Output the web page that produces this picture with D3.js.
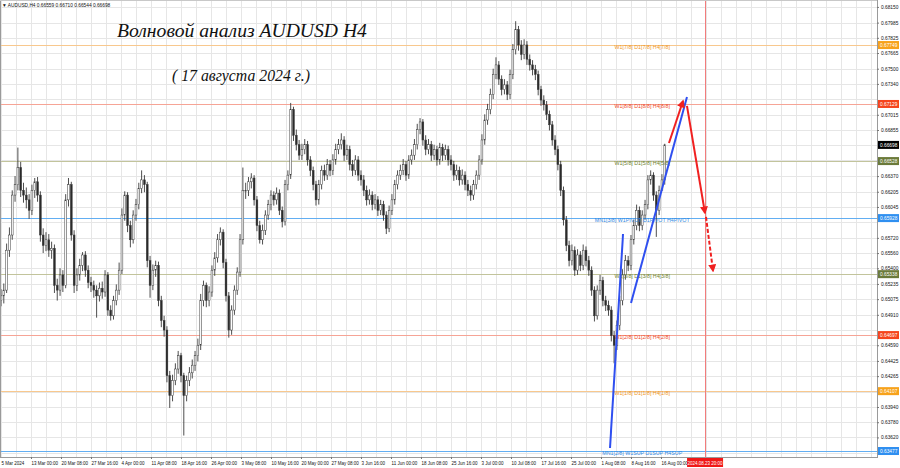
<!DOCTYPE html>
<html><head><meta charset="utf-8">
<script src="https://cdn.jsdelivr.net/npm/d3@7"></script>
<style>body{margin:0;background:#fff}svg{display:block}</style>
</head><body>
<script>
// ---------- DATA ----------
const symbolHeader = "AUDUSD,H4  0.66559 0.66710 0.66544 0.66698";
const firstOpen = 0.6498;
// H12 candles (2 per trading day), 5 Mar 2024 .. 16 Aug 2024; open = previous close
const closes = [
0.6506,0.6511,0.6517,0.6559,0.6575,0.6617,0.6628,0.6646,0.6622,0.6617,
0.6612,0.6601,0.6622,0.6631,0.6617,0.6575,0.6564,0.6570,0.6559,0.6561,
0.6522,0.6517,0.6533,0.6522,0.6612,0.6628,0.6575,0.6522,0.6533,0.6543,
0.6554,0.6538,0.6525,0.6522,0.6517,0.6511,0.6519,0.6515,0.6533,0.6496,
0.6490,0.6506,0.6517,0.6538,0.6596,0.6617,0.6585,0.6570,0.6596,0.6607,
0.6624,0.6633,0.6628,0.6548,0.6522,0.6538,0.6543,0.6506,0.6485,0.6475,
0.6427,0.6406,0.6422,0.6434,0.6448,0.6427,0.6406,0.6422,0.6430,0.6438,
0.6448,0.6459,0.6506,0.6522,0.6506,0.6515,0.6538,0.6551,0.6570,0.6578,
0.6546,0.6511,0.6475,0.6496,0.6517,0.6536,0.6570,0.6622,0.6622,0.6631,
0.6635,0.6612,0.6585,0.6570,0.6580,0.6596,0.6607,0.6617,0.6612,0.6619,
0.6601,0.6589,0.6628,0.6638,0.6707,0.6680,0.6670,0.6659,0.6665,0.6670,
0.6654,0.6643,0.6628,0.6612,0.6628,0.6643,0.6638,0.6649,0.6643,0.6654,
0.6665,0.6670,0.6675,0.6659,0.6665,0.6649,0.6643,0.6654,0.6638,0.6633,
0.6622,0.6612,0.6617,0.6607,0.6612,0.6601,0.6607,0.6596,0.6582,0.6601,
0.6612,0.6628,0.6638,0.6643,0.6649,0.6638,0.6654,0.6659,0.6670,0.6686,
0.6694,0.6675,0.6665,0.6670,0.6659,0.6665,0.6654,0.6667,0.6659,0.6665,
0.6654,0.6649,0.6638,0.6643,0.6633,0.6638,0.6628,0.6622,0.6617,0.6628,
0.6638,0.6654,0.6675,0.6696,0.6707,0.6723,0.6744,0.6754,0.6739,0.6728,
0.6733,0.6723,0.6744,0.6770,0.6791,0.6775,0.6765,0.6775,0.6760,0.6754,
0.6749,0.6744,0.6728,0.6717,0.6712,0.6702,0.6691,0.6675,0.6665,0.6649,
0.6622,0.6591,0.6564,0.6548,0.6559,0.6538,0.6554,0.6543,0.6559,0.6548,
0.6538,0.6517,0.6490,0.6517,0.6527,0.6506,0.6501,0.6496,0.6469,0.6459,
0.6480,0.6506,0.6533,0.6548,0.6543,0.6570,0.6585,0.6601,0.6585,0.6596,
0.6607,0.6633,0.6638,0.6617,0.6601,0.6622,0.6633,0.66698];
const highs = [
.6512,.6518,.6524,.6566,.6583,.6622,.6637,.6667,.6652,.6630,
.6625,.6618,.6628,.6635,.6636,.6621,.6582,.6578,.6576,.6568,
.6565,.6529,.6540,.6538,.6618,.6635,.6631,.6580,.6540,.6550,
.6557,.6558,.6543,.6531,.6527,.6522,.6525,.6526,.6538,.6536,
.6501,.6511,.6523,.6546,.6603,.6621,.6620,.6590,.6601,.6613,
.6630,.6643,.6638,.6631,.6553,.6544,.6548,.6547,.6511,.6490,
.6479,.6432,.6428,.6440,.6453,.6451,.6430,.6427,.6436,.6444,
.6453,.6466,.6513,.6527,.6525,.6521,.6543,.6557,.6576,.6583,
.6581,.6550,.6515,.6501,.6522,.6541,.6576,.6646,.6630,.6636,
.6640,.6638,.6616,.6590,.6586,.6601,.6612,.6622,.6621,.6625,
.6623,.6605,.6633,.6643,.6714,.6710,.6686,.6675,.6671,.6676,
.6674,.6658,.6647,.6632,.6633,.6648,.6649,.6655,.6654,.6660,
.6671,.6676,.6682,.6679,.6670,.6669,.6654,.6659,.6658,.6643,
.6638,.6627,.6623,.6621,.6618,.6616,.6612,.6611,.6600,.6606,
.6618,.6633,.6643,.6649,.6655,.6653,.6659,.6665,.6676,.6692,
.6698,.6697,.6680,.6676,.6674,.6670,.6669,.6672,.6671,.6670,
.6669,.6659,.6653,.6649,.6647,.6644,.6642,.6633,.6627,.6633,
.6643,.6659,.6681,.6702,.6713,.6729,.6750,.6762,.6758,.6743,
.6739,.6737,.6749,.6776,.6800,.6795,.6780,.6781,.6779,.6765,
.6759,.6754,.6748,.6732,.6722,.6716,.6706,.6695,.6680,.6669,
.6653,.6626,.6595,.6569,.6565,.6563,.6560,.6558,.6565,.6563,
.6553,.6542,.6521,.6522,.6533,.6531,.6511,.6506,.6500,.6474,
.6485,.6511,.6539,.6554,.6553,.6575,.6591,.6607,.6605,.6601,
.6612,.6638,.6643,.6641,.6621,.6627,.6639,.66710];
const lows = [
.6493,.6500,.6503,.6514,.6552,.6570,.6610,.6622,.6615,.6609,
.6603,.6592,.6596,.6614,.6610,.6568,.6556,.6558,.6552,.6550,
.6514,.6506,.6511,.6515,.6519,.6605,.6569,.6514,.6516,.6527,
.6537,.6531,.6519,.6515,.6509,.6488,.6505,.6508,.6510,.6490,
.6485,.6486,.6501,.6512,.6534,.6590,.6578,.6562,.6566,.6590,
.6602,.6619,.6620,.6541,.6509,.6517,.6531,.6500,.6478,.6468,
.6420,.6393,.6400,.6417,.6429,.6420,.6364,.6400,.6416,.6424,
.6432,.6442,.6454,.6500,.6499,.6500,.6510,.6532,.6546,.6564,
.6540,.6505,.6467,.6470,.6491,.6512,.6531,.6565,.6613,.6616,
.6624,.6606,.6579,.6566,.6565,.6575,.6591,.6601,.6606,.6607,
.6596,.6583,.6585,.6622,.6634,.6674,.6664,.6654,.6654,.6660,
.6648,.6637,.6622,.6606,.6607,.6623,.6632,.6633,.6637,.6638,
.6649,.6660,.6665,.6653,.6654,.6643,.6637,.6638,.6632,.6627,
.6616,.6606,.6607,.6601,.6602,.6595,.6596,.6590,.6576,.6578,
.6596,.6607,.6623,.6633,.6638,.6632,.6634,.6649,.6654,.6665,
.6681,.6669,.6659,.6660,.6653,.6654,.6648,.6649,.6653,.6654,
.6648,.6643,.6632,.6633,.6627,.6628,.6622,.6616,.6611,.6612,
.6623,.6633,.6649,.6670,.6691,.6702,.6718,.6739,.6733,.6722,
.6723,.6717,.6718,.6739,.6765,.6769,.6759,.6760,.6754,.6748,
.6743,.6738,.6722,.6711,.6706,.6696,.6685,.6669,.6659,.6643,
.6616,.6585,.6558,.6542,.6543,.6532,.6533,.6537,.6538,.6542,
.6532,.6511,.6484,.6486,.6512,.6500,.6495,.6490,.6463,.6440,
.6454,.6475,.6501,.6528,.6537,.6538,.6565,.6580,.6579,.6580,
.6591,.6602,.6628,.6611,.6573,.6596,.6627,.6628];

// time axis labels (H4 bar index from 5 Mar 2024 00:00)
const timeLabels = ["5 Mar 2024","13 Mar 00:00","20 Mar 08:00","27 Mar 16:00","4 Apr 00:00","11 Apr 08:00",
"18 Apr 16:00","26 Apr 00:00","3 May 08:00","10 May 16:00","20 May 00:00","27 May 08:00","3 Jun 16:00",
"11 Jun 00:00","18 Jun 08:00","25 Jun 16:00","3 Jul 00:00","10 Jul 08:00","17 Jul 16:00","25 Jul 00:00",
"1 Aug 08:00","8 Aug 16:00","16 Aug 00:00"];
const timeBars = [0,36,68,100,132,164,196,228,260,292,324,356,388,420,452,484,516,548,580,612,644,676,708];
const futureLabel = "2024.08.23 20:00";
const futureBar = 755;

const priceTicks = [0.68150,0.67985,0.67825,0.67665,0.67500,0.67340,0.67180,0.67015,0.66855,0.66695,
0.66535,0.66370,0.66205,0.66045,0.65885,0.65720,0.65560,0.65400,0.65235,0.65075,0.64910,0.64750,
0.64590,0.64425,0.64265,0.64100,0.63940,0.63780,0.63620,0.63455];

const levelValues = [0.67749,0.67129,0.66528,0.65928,0.65338,0.64697,0.64107,0.63477];
const levelNames = ["W1[7/8] D1[7/8] H4[7/8]","W1[8/8] D1[8/8] H4[8/8]","W1[5/8] D1[5/8] H4[5/8]",
"MN1[3/8] W1PIVOT D1PIVOT H4PIVOT","W1[3/8] D1[3/8] H4[3/8]","W1[2/8] D1[2/8] H4[2/8]",
"W1[1/8] D1[1/8] H4[1/8]","MN1[2/8] W1SUP D1SUP H4SUP"];
const levelKinds = ["orange","red","olive","blue","olive","red","orange","blue"];
const lastPrice = 0.66698;

// wave annotation (H4 bar, price)
const blueLines = [[[653.6,0.63509],[667.5,0.65761]],[[676,0.65035],[735.7,0.67202]]];
const redArrows = [[[716.5,0.66718],[731.5,0.67160]],[[735.7,0.67108],[754.9,0.65982]]];
const redDashed = [[756,0.6594],[763.5,0.65372]];

const titleText = "Волновой анализ AUDUSD H4";
const subtitleText = "( 17 августа 2024 г.)";

// ---------- STYLES ----------
const kindStyle = {
  orange:{line:"#f8c88e", text:"#f0961e", box:"#f7a21b"},
  red:{line:"#f6a496", text:"#ee4a28", box:"#f5441c"},
  olive:{line:"#c2c49c", text:"#6f7f30", box:"#6b7a3a"},
  blue:{line:"#62aef2", text:"#2f88e4", box:"#2f8ff0"}
};
const W=900,H=468,PR=877,PB=457;
const AX_FONT="'Liberation Sans',Arial,sans-serif";

const svg=d3.select("body").append("svg").attr("width",W).attr("height",H);
svg.append("rect").attr("width",W).attr("height",H).attr("fill","#fff");

const x=d3.scaleLinear().domain([0,939]).range([-2.75,877.56]);
const y=d3.scaleLinear().domain([0.63414,0.68223]).range([PB,0]);

svg.append("defs").append("clipPath").attr("id","clip").append("rect")
  .attr("x",0).attr("y",0).attr("width",PR).attr("height",PB);
const plot=svg.append("g").attr("clip-path","url(#clip)");

// grid (every 16 H4 bars, and at every price tick)
const gridBars=d3.range(4,940,16);
plot.append("g").selectAll("line").data(gridBars).join("line")
  .attr("x1",d=>Math.round(x(d))+0.5).attr("x2",d=>Math.round(x(d))+0.5).attr("y1",0).attr("y2",PB)
  .attr("stroke","#e6e6e6").attr("stroke-width",1);
plot.append("g").selectAll("line").data(priceTicks).join("line")
  .attr("x1",0).attr("x2",PR).attr("y1",d=>Math.round(y(d))+0.5).attr("y2",d=>Math.round(y(d))+0.5)
  .attr("stroke","#e6e6e6").attr("stroke-width",1);

// level lines
plot.append("g").selectAll("line").data(levelValues).join("line")
  .attr("x1",0).attr("x2",PR).attr("y1",d=>Math.round(y(d))+0.5).attr("y2",d=>Math.round(y(d))+0.5)
  .attr("stroke",(d,i)=>kindStyle[levelKinds[i]].line).attr("stroke-width",1);

// future vertical line
plot.append("line").attr("x1",Math.round(x(futureBar))+0.5).attr("x2",Math.round(x(futureBar))+0.5)
  .attr("y1",0).attr("y2",PB).attr("stroke","#f27c7c").attr("stroke-width",1);

// candles
const candles=closes.map((c,i)=>({bar:3*i+1,o:i?closes[i-1]:firstOpen,c:c,h:highs[i],l:lows[i]}));
const cg=plot.append("g");
cg.selectAll("line").data(candles).join("line")
  .attr("x1",d=>x(d.bar)).attr("x2",d=>x(d.bar))
  .attr("y1",d=>y(Math.max(d.h,d.o,d.c))).attr("y2",d=>y(Math.min(d.l,d.o,d.c)))
  .attr("stroke","#3a3a3a").attr("stroke-width",0.9);
cg.selectAll("rect").data(candles).join("rect")
  .attr("x",d=>x(d.bar)-0.9).attr("width",1.8)
  .attr("y",d=>y(Math.max(d.o,d.c))).attr("height",d=>Math.max(0.8,Math.abs(y(d.o)-y(d.c))))
  .attr("fill",d=>d.c>=d.o?"#ffffff":"#2a2a2a").attr("stroke","#3a3a3a").attr("stroke-width",0.5);

// level labels
plot.append("g").selectAll("text").data(levelValues).join("text")
  .attr("x",x(688)).attr("y",d=>y(d)+4).attr("text-anchor","middle")
  .attr("font-family",AX_FONT).attr("font-size",5.3)
  .attr("fill",(d,i)=>kindStyle[levelKinds[i]].text).text((d,i)=>levelNames[i]);

// annotations
const line=d3.line().x(d=>x(d[0])).y(d=>y(d[1]));
plot.append("g").selectAll("path").data(blueLines).join("path")
  .attr("d",line).attr("stroke","#2f4ff0").attr("stroke-width",2).attr("fill","none");
const defs=svg.select("defs");
defs.append("marker").attr("id","arr").attr("viewBox","0 0 10 10").attr("refX",8).attr("refY",5)
  .attr("markerWidth",4).attr("markerHeight",4).attr("orient","auto")
  .append("path").attr("d","M0,0 L10,5 L0,10 z").attr("fill","#f02020");
plot.append("g").selectAll("path").data(redArrows).join("path")
  .attr("d",line).attr("stroke","#f02020").attr("stroke-width",2).attr("fill","none")
  .attr("marker-end","url(#arr)");
plot.append("path").attr("d",line(redDashed)).attr("stroke","#f02020").attr("stroke-width",2)
  .attr("stroke-dasharray","4,2").attr("fill","none").attr("marker-end","url(#arr)");

// frame
svg.append("line").attr("x1",PR+0.5).attr("x2",PR+0.5).attr("y1",0).attr("y2",PB+1).attr("stroke","#9a9a9a");
svg.append("line").attr("x1",0).attr("x2",PR+1).attr("y1",PB+0.5).attr("y2",PB+0.5).attr("stroke","#9a9a9a");
svg.append("line").attr("x1",0.5).attr("x2",0.5).attr("y1",0).attr("y2",PB).attr("stroke","#9a9a9a");
svg.append("line").attr("x1",0).attr("x2",PR).attr("y1",0.5).attr("y2",0.5).attr("stroke","#c8c8c8");

// price boxes
const boxes=levelValues.map((v,i)=>({v:v,fill:kindStyle[levelKinds[i]].box}));
boxes.push({v:lastPrice,fill:"#000"});

// right axis (labels hidden where a price box sits)
const shownTicks=priceTicks.filter(t=>boxes.every(b=>Math.abs(y(b.v)-y(t))>5.5));
const ra=svg.append("g").attr("transform",`translate(${PR},0)`)
  .call(d3.axisRight(y).tickValues(shownTicks).tickFormat(d3.format(".5f")).tickSize(2).tickPadding(2));
ra.select(".domain").remove();
ra.selectAll("line").attr("stroke","#777");
ra.selectAll("text").attr("font-family",AX_FONT).attr("font-size",4.8).attr("fill","#111");

const bg=svg.append("g").selectAll("g").data(boxes).join("g")
  .attr("transform",d=>`translate(${PR+1},${y(d.v)})`);
bg.append("rect").attr("x",0).attr("y",-4).attr("width",21).attr("height",8).attr("fill",d=>d.fill);
bg.append("text").attr("x",2).attr("y",1.8).attr("font-family",AX_FONT).attr("font-size",4.8)
  .attr("fill","#fff").text(d=>d3.format(".5f")(d.v));

// bottom axis
const ba=svg.append("g").attr("transform",`translate(0,${PB})`)
  .call(d3.axisBottom(x).tickValues(timeBars).tickFormat((d,i)=>timeLabels[i]).tickSize(2).tickPadding(2.5));
ba.select(".domain").remove();
ba.selectAll("line").attr("stroke","#777");
ba.selectAll("text").attr("text-anchor","start").attr("font-family",AX_FONT).attr("font-size",4.5).attr("fill","#111")
  .attr("dx",(d,i)=>i===0?Math.max(0,1-x(d)):0);

// future box
const fx=x(futureBar);
svg.append("rect").attr("x",fx-18).attr("y",PB+1).attr("width",36).attr("height",9).attr("fill","#f01818");
svg.append("text").attr("x",fx).attr("y",PB+7.6).attr("text-anchor","middle").attr("font-family",AX_FONT)
  .attr("font-size",4.5).attr("fill","#fff").text(futureLabel);

// header
svg.append("text").attr("x",2).attr("y",6.5).attr("font-family",AX_FONT).attr("font-size",4.8).attr("fill","#111")
  .text("▼ "+symbolHeader);

// title
const t1=svg.append("text").attr("x",117).attr("y",37).attr("font-family","'Liberation Serif',serif")
  .attr("font-style","italic").attr("font-size",22).attr("fill","#111").text(titleText);
const t2=svg.append("text").attr("x",172).attr("y",81).attr("font-family","'Liberation Serif',serif")
  .attr("font-style","italic").attr("font-size",16).attr("fill","#111").text(subtitleText);
function fit(t,w){const L=t.node().getComputedTextLength();const fs=+t.attr("font-size");t.attr("font-size",fs*w/L);}
fit(t1,250);fit(t2,138);
</script>
</body></html>
